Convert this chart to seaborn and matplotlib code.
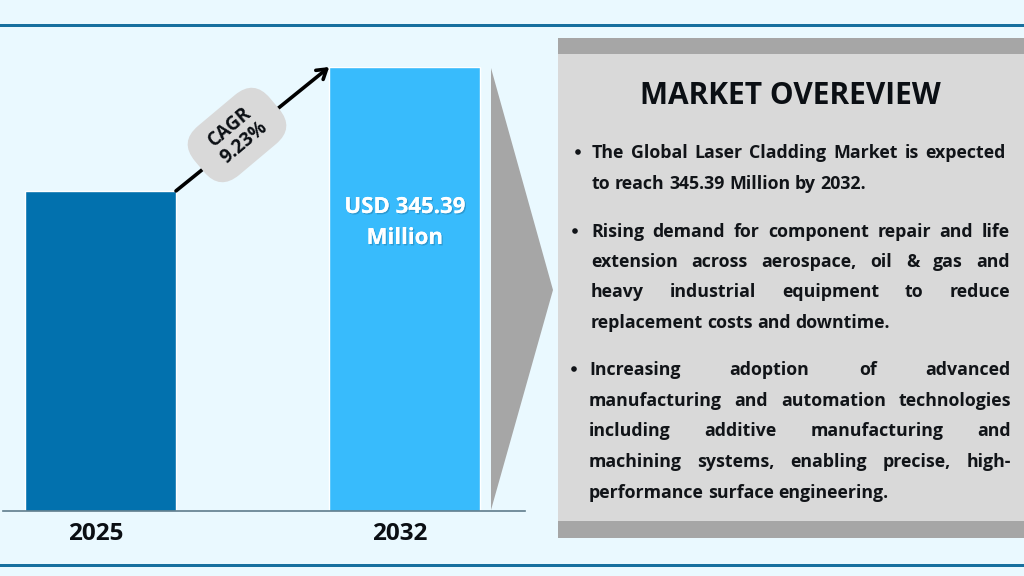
import matplotlib
matplotlib.use("Agg")
import matplotlib.pyplot as plt
import matplotlib.patheffects as pe
from matplotlib.patches import FancyBboxPatch, Polygon, Rectangle, Circle
from matplotlib.transforms import Affine2D, ScaledTranslation
import pandas as pd
import seaborn as sns

years = ["2025", "2032"]
market_size = [249.0, 345.39]
bar_colors = ["#0271AE", "#38BBFC"]
title = "MARKET OVEREVIEW"
bar_label = ["USD 345.39", "Million"]
cagr_label = "CAGR\n9.23%"

# each bullet: list of lines, True = stretched to the right edge
bullet_1 = [("The Global Laser Cladding Market is expected", True),
            ("to reach 345.39 Million by 2032.", False)]
bullet_2 = [("Rising demand for component repair and life", True),
            ("extension across aerospace, oil & gas and", True),
            ("heavy industrial equipment to reduce", True),
            ("replacement costs and downtime.", False)]
bullet_3 = [("Increasing adoption of advanced", True),
            ("manufacturing and automation technologies", True),
            ("including additive manufacturing and", True),
            ("machining systems, enabling precise, high-", True),
            ("performance surface engineering.", False)]

BG = "#EAF9FF"
RULE = "#17709F"
GREY = "#D9D9D9"
DARK_GREY = "#A6A6A6"
FONT = "Open Sans"

sns.set_theme(style="white")
plt.rcParams["font.family"] = [FONT, "DejaVu Sans"]

fig = plt.figure(figsize=(10.24, 5.76), dpi=100, facecolor=BG)

# bar chart, axes box lines up with the baseline and the top of the tall bar
ax = fig.add_axes([3 / 1024, (576 - 511) / 576, 522 / 1024, 444 / 576])
ax.patch.set_alpha(0)
df = pd.DataFrame({"year": years, "size": market_size})
sns.barplot(data=df, x="year", y="size", hue="year", palette=bar_colors, width=0.496,
            saturation=1, legend=False, ax=ax)
ax.set_xlim(-0.321, 1.396)
ax.set_ylim(0, max(market_size))
ax.set_xlabel("")
ax.set_ylabel("")
ax.set_yticks([])
for side in ["top", "left", "right"]:
    ax.spines[side].set_visible(False)
ax.spines["bottom"].set_color("#5F7D8C")
ax.spines["bottom"].set_linewidth(1.2)
ax.tick_params(axis="x", length=0, pad=8)
shift = ScaledTranslation(-4.5 / 100, 0, fig.dpi_scale_trans)
for lab in ax.get_xticklabels():
    lab.set_fontsize(17.5)
    lab.set_fontweight("bold")
    lab.set_color("#0B0F14")
    lab.set_transform(lab.get_transform() + shift)

# growth arrow from the short bar corner to the tall bar corner
ax.annotate("", xy=(1 - 0.248, market_size[1]), xytext=(0.248, market_size[0]),
            arrowprops=dict(arrowstyle="->,head_length=0.55,head_width=0.35", color="black", lw=2.6,
                            shrinkA=0, shrinkB=0), annotation_clip=False)

# overlay in pixel coordinates for the decoration and the text panel
ov = fig.add_axes([0, 0, 1, 1], zorder=5)
ov.set_xlim(0, 1024)
ov.set_ylim(576, 0)
ov.axis("off")

ov.add_patch(Rectangle((0, 23.5), 1024, 3.5, color=RULE, lw=0))
ov.add_patch(Rectangle((0, 563.5), 1024, 3.5, color=RULE, lw=0))

ov.add_patch(Polygon([(491, 68), (553, 290), (491, 510)], closed=True, color=DARK_GREY, lw=0))
ov.add_patch(Rectangle((558, 38), 466, 500, color=GREY, lw=0))
ov.add_patch(Rectangle((558, 38), 466, 16, color=DARK_GREY, lw=0))
ov.add_patch(Rectangle((558, 521), 466, 17, color=DARK_GREY, lw=0))

# CAGR pill
pill = FancyBboxPatch((237 - 23, 135 - 6), 46, 12, boxstyle="round,pad=26,rounding_size=25", lw=0, fc=GREY)
pill.set_transform(Affine2D().rotate_deg_around(237, 135, -40) + ov.transData)
ov.add_patch(pill)
ov.text(237, 135, cagr_label, rotation=40, rotation_mode="anchor", ha="center", va="center",
        multialignment="center", fontsize=13.5, fontweight="bold", color="#0B0F14", linespacing=1.05)

shadow = [pe.withSimplePatchShadow(offset=(1, -1), shadow_rgbFace="#1A5E85", alpha=0.35), pe.Normal()]
for label, y in zip(bar_label, [213, 244]):
    ov.text(405, y, label, ha="center", va="baseline", fontsize=16, fontweight="bold", color="white",
            path_effects=shadow)

ov.text(790, 104, title, ha="center", va="baseline", fontsize=21.5, fontweight="bold", color="#0B0F14")

renderer = fig.canvas.get_renderer()


def put_line(text, left, right, y, stretch):
    # draw word by word so the line can be justified like the original
    words = text.split(" ")
    items = [ov.text(left, y, w, ha="left", va="baseline", fontsize=TEXT_SIZE, fontweight="bold",
                     color="#111418") for w in words]
    widths = [t.get_window_extent(renderer).width for t in items]
    if stretch:
        gap = (right - left - sum(widths)) / (len(words) - 1)
    else:
        gap = TEXT_SIZE * 100 / 72 * 0.25
    x = left
    for t, w in zip(items, widths):
        t.set_x(x)
        x += w + gap


TEXT_SIZE = 12.8
blocks = [(bullet_1, 578, 592, 1006, [158, 189]),
          (bullet_2, 575, 591, 1010, [237, 267, 297, 328]),
          (bullet_3, 574, 589, 1011, [375, 406, 436, 467, 498])]
for lines, dot_x, left, right, baselines in blocks:
    ov.add_patch(Circle((dot_x, baselines[0] - 6), 2.8, color="#111418", lw=0))
    for (text, stretch), y in zip(lines, baselines):
        put_line(text, left, right, y, stretch)

fig.savefig("out.png", dpi=100, facecolor=BG)
